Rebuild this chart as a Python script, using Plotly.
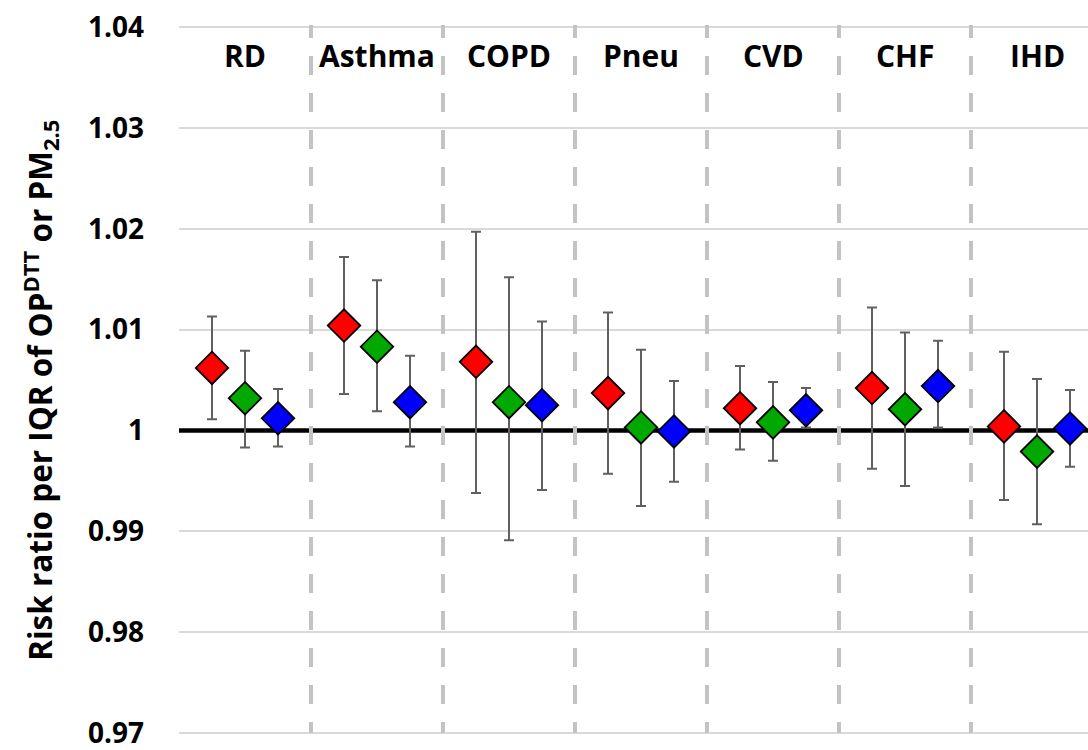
import plotly.graph_objects as go

categories = ["RD", "Asthma", "COPD", "Pneu", "CVD", "CHF", "IHD"]

# three estimates per category (red, green, blue series)
red_val = [1.0062, 1.0104, 1.0068, 1.0037, 1.0022, 1.0042, 1.0004]
red_hi  = [1.0113, 1.0172, 1.0197, 1.0117, 1.0064, 1.0122, 1.0078]
red_lo  = [1.0011, 1.0036, 0.9938, 0.9957, 0.9981, 0.9962, 0.9931]

green_val = [1.0032, 1.0083, 1.0028, 1.0003, 1.0008, 1.0021, 0.9979]
green_hi  = [1.0079, 1.0149, 1.0152, 1.0080, 1.0048, 1.0097, 1.0051]
green_lo  = [0.9983, 1.0019, 0.9891, 0.9925, 0.9970, 0.9945, 0.9907]

blue_val = [1.0012, 1.0028, 1.0025, 0.9999, 1.0020, 1.0044, 1.0002]
blue_hi  = [1.0041, 1.0074, 1.0108, 1.0049, 1.0042, 1.0089, 1.0040]
blue_lo  = [0.9984, 0.9984, 0.9941, 0.9949, 1.0003, 1.0003, 0.9964]

ytick_vals = [0.97, 0.98, 0.99, 1.00, 1.01, 1.02, 1.03, 1.04]
ytick_text = ["0.97", "0.98", "0.99", "1", "1.01", "1.02", "1.03", "1.04"]
reference_ratio = 1.0

series = [
    ("red", red_val, red_hi, red_lo, "#FF0000", -0.25),
    ("green", green_val, green_hi, green_lo, "#00A800", 0.0),
    ("blue", blue_val, blue_hi, blue_lo, "#0000FF", 0.25),
]

FONT = "Open Sans"

fig = go.Figure()

# reference line at 1 (a trace so it sits above the gridlines)
fig.add_trace(go.Scatter(
    x=[0, len(categories)], y=[reference_ratio, reference_ratio], mode="lines",
    line=dict(color="black", width=4.5), showlegend=False, hoverinfo="skip"))

for name, val, hi, lo, col, off in series:
    xs = [i + 0.5 + off for i in range(len(categories))]
    fig.add_trace(go.Scatter(
        x=xs, y=val, mode="markers", name=name, showlegend=False,
        marker=dict(symbol="diamond", size=25, color=col,
                    line=dict(color="black", width=1.8)),
        error_y=dict(type="data", symmetric=False,
                     array=[h - v for h, v in zip(hi, val)],
                     arrayminus=[v - l for v, l in zip(val, lo)],
                     color="#606060", thickness=2, width=5),
    ))

shapes = []
# dashed separators between categories
for k in range(1, len(categories)):
    shapes.append(dict(type="line", xref="x", yref="y", x0=k, x1=k, y0=1.0408, y1=0.97,
                       line=dict(color="#C3C3C3", width=4, dash="19px,18px"), layer="above"))

annotations = []
for i, c in enumerate(categories):
    annotations.append(dict(x=i + 0.5, y=0.957, xref="x", yref="paper",
                            text="<b>" + c + "</b>", showarrow=False,
                            xanchor="center", yanchor="middle",
                            font=dict(family=FONT, size=30, color="black")))
annotations.append(dict(x=-0.153, y=0.486, xref="paper", yref="paper",
                        text="<b>Risk ratio per IQR of OP<sup>DTT</sup> or PM<sub>2.5</sub></b>",
                        textangle=-90, showarrow=False, xanchor="center", yanchor="middle",
                        font=dict(family=FONT, size=31.5, color="black")))

fig.update_layout(
    width=1088, height=750,
    margin=dict(l=179, r=0, t=25, b=15),
    paper_bgcolor="white", plot_bgcolor="white",
    shapes=shapes, annotations=annotations,
    xaxis=dict(range=[0, (1088 - 179) / 132], showgrid=False, zeroline=False,
               showticklabels=False, showline=False, fixedrange=True),
    yaxis=dict(range=[0.9698, 1.0402], tickvals=ytick_vals, ticktext=ytick_text,
               showgrid=True, gridcolor="#D9D9D9", gridwidth=1.5, zeroline=False,
               showline=False, ticks="", ticklabelstandoff=34, ticklabeloverflow="allow",
               tickfont=dict(family=FONT, size=28, color="black", weight="bold")),
)

fig.write_html("out.html")
